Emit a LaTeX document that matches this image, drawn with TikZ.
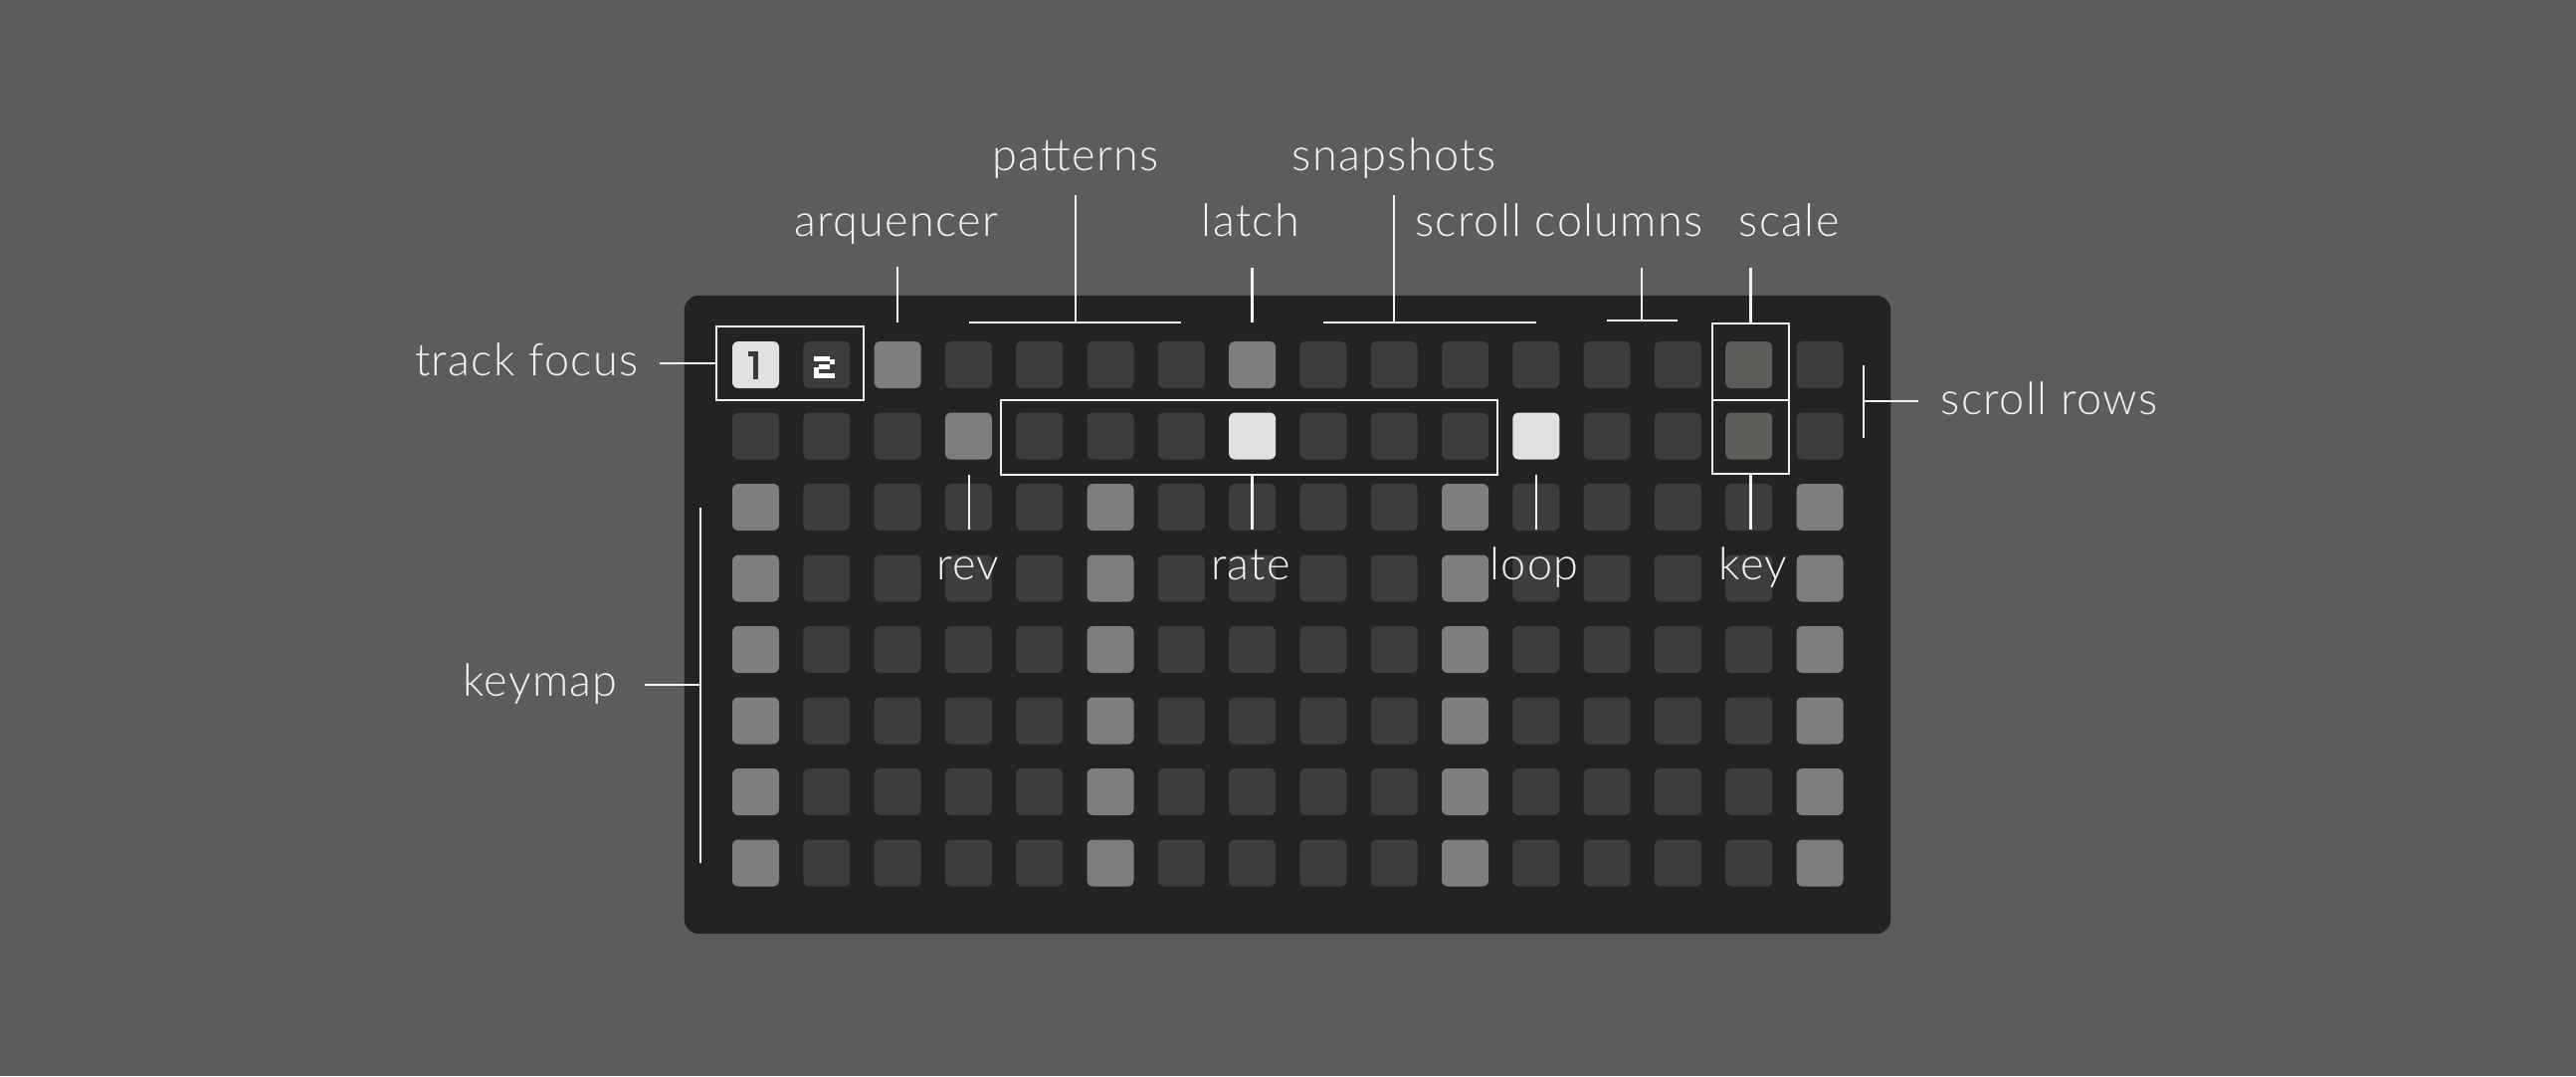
\documentclass[tikz,border=0pt]{standalone}
\usepackage{fontspec}
\setmainfont{Lato}[UprightFont={* Light}, LetterSpace=3]
\definecolor{bg}{HTML}{5B5D5C}
\definecolor{panel}{HTML}{232323}
\definecolor{cdark}{HTML}{3C3E3D}
\definecolor{cmid}{HTML}{7F7E7C}
\definecolor{clight}{HTML}{E0E1E0}
\definecolor{ckey}{HTML}{5F5D5A}
\definecolor{ink}{HTML}{F2F2F2}
\definecolor{glyph}{HTML}{383838}
\begin{document}
\begin{tikzpicture}[x=0.01cm,y=-0.01cm,
  cell/.style={rectangle, minimum size=0.47cm, inner sep=0pt, rounded corners=0.06cm, draw=none},
  ann/.style={draw=ink, line width=0.6pt},
  lbl/.style={text=ink, font=\fontsize{12.8}{14}\selectfont, anchor=base, inner sep=0pt},
  annbox/.style={draw=ink, line width=0.6pt, rectangle, inner sep=0pt}]
\fill[bg] (0,0) rectangle (2589,1081);
\useasboundingbox (0,0) rectangle (2589,1081);
\node[fill=panel, rounded corners=0.15cm, minimum width=12.12cm, minimum height=6.41cm, inner sep=0pt] (panel) at (1294,617.5) {};
% row 1
\foreach \c/\f in {1/clight,2/cdark,3/cmid,4/cdark,5/cdark,6/cdark,7/cdark,8/cmid,9/cdark,10/cdark,11/cdark,12/cdark,13/cdark,14/cdark,15/ckey,16/cdark}
  \node[cell, fill=\f] (c1-\c) at ({759.5+(\c-1)*71.3},366.5) {};
% row 2
\foreach \c/\f in {1/cdark,2/cdark,3/cdark,4/cmid,5/cdark,6/cdark,7/cdark,8/clight,9/cdark,10/cdark,11/cdark,12/clight,13/cdark,14/cdark,15/ckey,16/cdark}
  \node[cell, fill=\f] (c2-\c) at ({759.5+(\c-1)*71.3},438) {};
% rows 3-8
\foreach \r in {3,...,8}
  \foreach \c in {1,...,16}{
    \pgfmathtruncatemacro\m{mod(\c-1,5)==0 ? 1 : 0}
    \ifnum\m=1 \def\cf{cmid}\else\def\cf{cdark}\fi
    \node[cell, fill=\cf] (c\r-\c) at ({759.5+(\c-1)*71.3},{366.5+(\r-1)*71.5}) {};
  }
% glyph "1"
\fill[glyph] (752,353) rectangle (757.3,357.5);
\fill[glyph] (757.3,353) rectangle (762.3,380.5);
% glyph "2"
\fill[white] (818,358) rectangle (834,363);
\fill[white] (834,361) rectangle (839,366);
\fill[white] (823,366) rectangle (834,371);
\fill[white] (818,369) rectangle (823,375);
\fill[white] (818,375) rectangle (839,380);
% labels
\node[lbl] (l-arq) at (901,237) {arquencer};
\node[lbl] (l-pat) at (1081,171) {patterns};
\node[lbl] (l-lat) at (1257,237) {latch};
\node[lbl] (l-snap) at (1401,171) {snapshots};
\node[lbl] (l-scol) at (1567,237) {scroll columns};
\node[lbl] (l-scale) at (1798,237) {scale};
\node[lbl, anchor=base east] (l-tf) at (642,377) {track focus};
\node[lbl, anchor=base west] (l-srow) at (1950,416) {scroll rows};
\node[lbl] (l-km) at (543,699) {keymap};
\node[lbl] (l-rev) at (973,582) {rev};
\node[lbl] (l-rate) at (1257,582) {rate};
\node[lbl] (l-loop) at (1542,582) {loop};
\node[lbl] (l-key) at (1762,582) {key};
% boxes
\node[annbox, minimum width=1.48cm, minimum height=0.74cm] (b-tf) at (794,365) {};
\node[annbox, minimum width=0.77cm, minimum height=0.77cm] (b-scale) at (1759.5,363.5) {};
\node[annbox, minimum width=0.77cm, minimum height=0.74cm] (b-key) at (1759.5,439) {};
\node[annbox, minimum width=4.99cm, minimum height=0.75cm] (b-rate) at (1255.5,439.5) {};
% connector end points
\coordinate (tf-a) at (663,365);
\coordinate (arq-a) at (902,268);  \coordinate (arq-b) at (902,324);
\coordinate (pat-a) at (1081,196); \coordinate (pat-b) at (1081,324);
\coordinate (pat-l) at (974,324);  \coordinate (pat-r) at (1187,324);
\coordinate (lat-a) at (1258.5,269); \coordinate (lat-b) at (1258.5,324);
\coordinate (snap-a) at (1401,196); \coordinate (snap-b) at (1401,324);
\coordinate (snap-l) at (1330,324); \coordinate (snap-r) at (1544,324);
\coordinate (scol-a) at (1650,269); \coordinate (scol-b) at (1650,322);
\coordinate (scol-l) at (1615,322); \coordinate (scol-r) at (1686,322);
\coordinate (sc-a) at (1759.5,269);
\coordinate (key-a) at (1759.5,532);
\coordinate (rate-a) at (1258.5,532);
\coordinate (rev-a) at (974,477); \coordinate (rev-b) at (974,532);
\coordinate (loop-a) at (1544,477); \coordinate (loop-b) at (1544,532);
\coordinate (sr-t) at (1873,367); \coordinate (sr-b) at (1873,440);
\coordinate (sr-m) at (1873,403); \coordinate (sr-e) at (1928,403);
\coordinate (km-t) at (704,510); \coordinate (km-b) at (704,867);
\coordinate (km-s) at (648,688); \coordinate (km-m) at (704,688);
% connectors
\draw[ann] (tf-a) -- (b-tf.west);
\draw[ann] (arq-a) -- (arq-b);
\draw[ann] (pat-a) -- (pat-b);
\draw[ann] (pat-l) -- (pat-r);
\draw[ann] (lat-a) -- (lat-b);
\draw[ann] (snap-a) -- (snap-b);
\draw[ann] (snap-l) -- (snap-r);
\draw[ann] (scol-a) -- (scol-b);
\draw[ann] (scol-l) -- (scol-r);
\draw[ann] (sc-a) -- (b-scale.north);
\draw[ann] (b-key.south) -- (key-a);
\draw[ann] (rate-a |- b-rate.south) -- (rate-a);
\draw[ann] (rev-a) -- (rev-b);
\draw[ann] (loop-a) -- (loop-b);
\draw[ann] (sr-t) -- (sr-b);
\draw[ann] (sr-m) -- (sr-e);
\draw[ann] (km-t) -- (km-b);
\draw[ann] (km-s) -- (km-m);
\end{tikzpicture}
\end{document}
